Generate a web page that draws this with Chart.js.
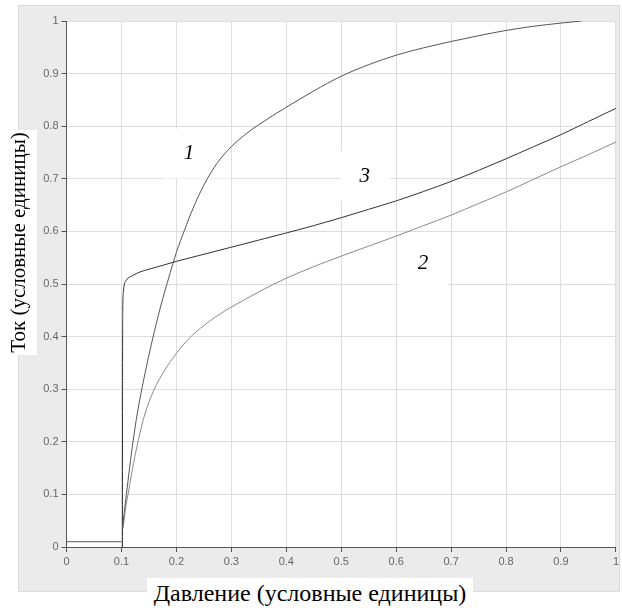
<!DOCTYPE html>
<html><head><meta charset="utf-8">
<script src="https://cdn.jsdelivr.net/npm/chart.js@4/dist/chart.umd.min.js"></script>
<style>
html,body{margin:0;padding:0;background:#fff;}
#wrap{position:relative;width:622px;height:608px;overflow:hidden;}
#c{position:absolute;left:0;top:0;}
.ttl{position:absolute;font-family:"Liberation Serif","Times New Roman",serif;color:#000;background:#fff;white-space:nowrap;text-align:center;}
#xt{left:147px;top:578px;width:326px;height:30px;line-height:31px;font-size:24px;}
#yt{left:-94px;top:224px;width:225px;height:37px;line-height:37px;font-size:21px;transform:rotate(-90deg);}
</style></head><body>
<div id="wrap"><canvas id="c" width="622" height="608"></canvas>
<div class="ttl" id="xt">Давление (условные единицы)</div>
<div class="ttl" id="yt">Ток (условные единицы)</div>
</div>
<script>
// tick labels
const xTickLabels = ['0','0.1','0.2','0.3','0.4','0.5','0.6','0.7','0.8','0.9','1'];
const yTickLabels = ['0','0.1','0.2','0.3','0.4','0.5','0.6','0.7','0.8','0.9','1'];

// baseline segment before threshold
const flatX = [0, 0.1];
const flatY = [0.01, 0.01];

// curve 1
const c1X = [0.102,0.105,0.109,0.115,0.121,0.129,0.138,0.149,0.16,0.172,0.185,0.2,0.215,0.23,0.25,0.275,0.3,0.325,0.35,0.4,0.45,0.5,0.55,0.6,0.65,0.7,0.75,0.8,0.85,0.9,0.937];
const c1Y = [0.035,0.065,0.1,0.152,0.2,0.255,0.305,0.36,0.41,0.46,0.508,0.56,0.603,0.643,0.688,0.731,0.761,0.784,0.803,0.836,0.867,0.895,0.917,0.935,0.949,0.961,0.972,0.982,0.99,0.996,1.0];

// curve 2
const c2X = [0.103,0.107,0.112,0.12,0.128,0.14,0.158,0.18,0.2,0.2245,0.25,0.275,0.3,0.35,0.4,0.45,0.5,0.55,0.6,0.65,0.7,0.75,0.8,0.85,0.9,0.95,1.0];
const c2Y = [0.035,0.07,0.1,0.148,0.19,0.243,0.296,0.338,0.368,0.398,0.421,0.44,0.456,0.485,0.511,0.533,0.553,0.572,0.591,0.611,0.631,0.653,0.675,0.699,0.723,0.746,0.77];

// curve 3
const c3X = [0.1018,0.102,0.1024,0.1035,0.105,0.108,0.112,0.12,0.134,0.15,0.17,0.2,0.25,0.3,0.35,0.4,0.45,0.5,0.55,0.6,0.65,0.7,0.75,0.8,0.85,0.9,0.95,1.0];
const c3Y = [0,0.3,0.45,0.485,0.498,0.506,0.511,0.516,0.523,0.528,0.534,0.543,0.5565,0.57,0.5835,0.597,0.611,0.626,0.642,0.658,0.676,0.695,0.716,0.738,0.761,0.784,0.809,0.834];

// curve number labels (data coordinates)
const labelText = ['1','3','2'];
const labelX = [0.223, 0.543, 0.649];
const labelY = [0.748, 0.705, 0.539];

function pts(xs, ys){ return xs.map((x,i)=>({x:x, y:ys[i]})); }

const bgPlugin = {
  id:'bg',
  beforeDraw(chart){
    const ctx = chart.ctx, a = chart.chartArea;
    ctx.save();
    ctx.fillStyle = '#fff';
    ctx.fillRect(0,0,chart.width,chart.height);
    ctx.fillStyle = '#ebebeb';
    ctx.fillRect(18,5,602,587);
    ctx.strokeStyle = '#dadada';
    ctx.lineWidth = 1;
    ctx.strokeRect(18.5,5.5,601,586);
    ctx.fillStyle = '#fff';
    ctx.fillRect(a.left,a.top,a.right-a.left,a.bottom-a.top);
    ctx.restore();
  },
  beforeDatasetsDraw(chart){
    const ctx = chart.ctx, xs = chart.scales.x, ys = chart.scales.y;
    ctx.save();
    const boxW = [68,50,50], boxH = [50,50,50], offX = [8,0,0];
    for(let i=0;i<labelText.length;i++){
      const px = xs.getPixelForValue(labelX[i]);
      const py = ys.getPixelForValue(labelY[i]);
      ctx.fillStyle = '#fff';
      ctx.fillRect(px - boxW[i]/2 + offX[i], py - boxH[i]/2, boxW[i], boxH[i]);
      ctx.fillStyle = '#000';
      ctx.font = 'italic 21px "Liberation Serif", "Times New Roman", serif';
      ctx.textAlign = 'center';
      ctx.textBaseline = 'middle';
      ctx.fillText(labelText[i], px, py);
    }
    ctx.restore();
  }
};

const tickFont = {family:'"Liberation Sans", Arial, sans-serif', size:11};
const lineCommon = {borderWidth:1, pointRadius:0, fill:false, cubicInterpolationMode:'monotone'};

new Chart(document.getElementById('c'), {
  type:'line',
  data:{
    datasets:[
      Object.assign({data:pts(flatX,flatY), borderColor:'#555'}, lineCommon),
      Object.assign({data:pts(c1X,c1Y), borderColor:'#555'}, lineCommon),
      Object.assign({data:pts(c2X,c2Y), borderColor:'#8a8a8a'}, lineCommon),
      Object.assign({data:pts(c3X,c3Y), borderColor:'#333'}, lineCommon)
    ]
  },
  options:{
    responsive:false,
    animation:false,
    devicePixelRatio:1,
    layout:{padding:{left:18, right:6, top:21, bottom:31}},
    plugins:{legend:{display:false}, tooltip:{enabled:false}, title:{display:false}},
    scales:{
      x:{
        type:'linear', min:0, max:1,
        afterFit(s){ s.height = 30; },
        afterBuildTicks(s){ s.ticks = xTickLabels.map(t=>({value:parseFloat(t)})); },
        ticks:{color:'#666', font:tickFont, padding:3, maxRotation:0, autoSkip:false,
               callback:(v,i)=>xTickLabels[i]},
        grid:{color:'#dedede', lineWidth:1, tickColor:'#555', tickLength:5, drawTicks:true},
        border:{display:true, color:'#555', width:1}
      },
      y:{
        type:'linear', min:0, max:1,
        afterFit(s){ s.width = 48.5; },
        afterBuildTicks(s){ s.ticks = yTickLabels.map(t=>({value:parseFloat(t)})); },
        ticks:{color:'#666', font:tickFont, padding:3, autoSkip:false,
               callback:(v,i)=>yTickLabels[i]},
        grid:{color:'#dedede', lineWidth:1, tickColor:'#555', tickLength:5, drawTicks:true},
        border:{display:true, color:'#555', width:1}
      }
    }
  },
  plugins:[bgPlugin]
});
</script>
</body></html>
